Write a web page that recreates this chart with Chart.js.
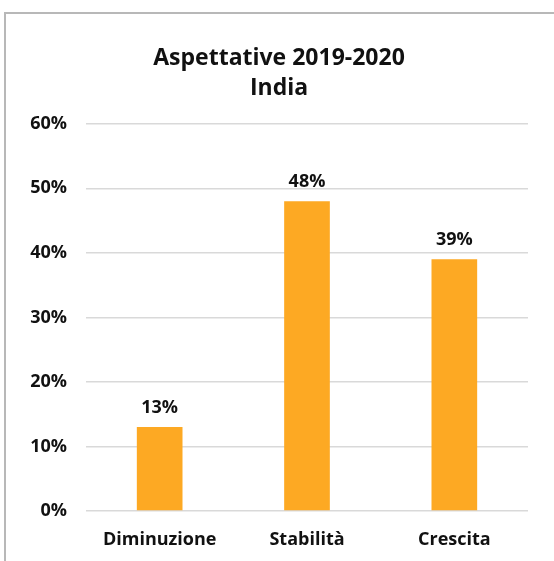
<!DOCTYPE html>
<html>
<head>
<meta charset="utf-8">
<script src="https://cdn.jsdelivr.net/npm/chart.js@4"></script>
<style>
    body { margin: 0; background: #fff; }
    #wrap { position: relative; width: 554px; height: 561px; overflow: hidden; }
    #frame {
        position: absolute; left: 4px; top: 12px;
        width: 600px; height: 600px;
        border: 2px solid #b8b8b8;
        pointer-events: none;
    }
    canvas { position: absolute; left: 0; top: 0; }
</style>
</head>
<body>
<div id="wrap">
    <canvas id="chart" width="554" height="561"></canvas>
    <div id="frame"></div>
</div>
<script>
const titleLines = ['Aspettative 2019-2020', 'India'];
const categories = ['Diminuzione', 'Stabilità', 'Crescita'];
const shares = [13, 48, 39];
const yTicks = [0, 10, 20, 30, 40, 50, 60];

const fontFamily = '"Open Sans", "Noto Sans", sans-serif';
const textColor = '#111111';

// value written above each bar, taken from the bar element itself
const barLabels = {
    id: 'barLabels',
    afterDatasetsDraw(chart) {
        const ctx = chart.ctx;
        const meta = chart.getDatasetMeta(0);
        ctx.save();
        ctx.font = 'bold 18px ' + fontFamily;
        ctx.fillStyle = textColor;
        ctx.textAlign = 'center';
        ctx.textBaseline = 'alphabetic';
        meta.data.forEach((bar, i) => {
            ctx.fillText(shares[i] + '%', bar.x, bar.y - 14);
        });
        ctx.restore();
    }
};

const ctx = document.getElementById('chart');
new Chart(ctx, {
    type: 'bar',
    data: {
        labels: categories,
        datasets: [{
            data: shares,
            backgroundColor: '#FDA923',
            borderWidth: 0,
            barPercentage: 0.31,
            categoryPercentage: 1
        }]
    },
    options: {
        responsive: false,
        animation: false,
        layout: {
            padding: { left: 30, right: 26, top: 0, bottom: 0 }
        },
        plugins: {
            legend: { display: false },
            tooltip: { enabled: false },
            title: {
                display: true,
                text: titleLines,
                color: textColor,
                font: { family: fontFamily, size: 23, weight: 'bold', lineHeight: 1.3 },
                padding: { top: 44, bottom: 20 }
            }
        },
        scales: {
            x: {
                grid: { display: false },
                border: { display: false },
                ticks: {
                    color: textColor,
                    font: { family: fontFamily, size: 18, weight: 'bold' },
                    padding: 10,
                    maxRotation: 0
                },
                afterFit(scale) { scale.height = 50; }
            },
            y: {
                min: 0,
                max: 60,
                afterBuildTicks(scale) {
                    scale.ticks = yTicks.map(v => ({ value: v }));
                },
                grid: { color: '#d9d9d9', lineWidth: 1.5, drawTicks: false },
                border: { display: false },
                ticks: {
                    color: textColor,
                    font: { family: fontFamily, size: 18, weight: 'bold' },
                    padding: 19,
                    callback: v => v + '%'
                },
                afterFit(scale) { scale.width = 56; }
            }
        }
    },
    plugins: [barLabels]
});
</script>
</body>
</html>
